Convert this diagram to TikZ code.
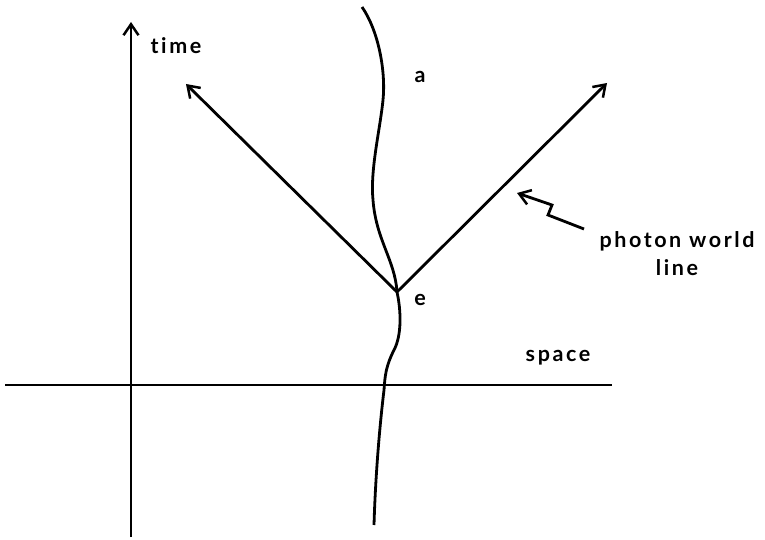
\documentclass[tikz,border=0pt]{standalone}
\usepackage{fontspec}
\setmainfont[LetterSpace=12,Ligatures={NoCommon},BoldFont={Lato Bold}]{Lato}
\usetikzlibrary{arrows.meta}
\begin{document}
\begin{tikzpicture}[x=1pt,y=-1pt,
  ln/.style={line width=2.8pt},
  tip/.style={-{Straight Barb[length=11pt,width=15pt,line width=2.5pt]}},
  arr/.style={ln,tip},
  lbl/.style={font=\fontsize{21.5}{28}\selectfont\bfseries,inner sep=0pt}]
\useasboundingbox (0,0) rectangle (765,540);
% axes
\coordinate (tb) at (131,537);
\coordinate (tt) at (131,22);
\coordinate (sl) at (5,385);
\coordinate (sr) at (612,385);
\draw[arr] (tb) -- (tt);
\draw[ln] (sl) -- (sr);
% world line
\coordinate (e) at (397,292);
\draw[ln] (362,7) .. controls (378,30) and (386,70) .. (383,100)
  .. controls (380,130) and (370,170) .. (373,200)
  .. controls (376,240) and (395,260) .. (e)
  .. controls (401,310) and (402,335) .. (394,350)
  .. controls (386,366) and (385,375) .. (384,390)
  .. controls (378,440) and (375,490) .. (374,525);
% photon lines
\coordinate (pl) at (186,84);
\coordinate (pr) at (607,83);
\draw[arr] (e) -- (pl);
\draw[arr] (e) -- (pr);
% zigzag pointer
\coordinate (z0) at (584,229);
\coordinate (z1) at (548,215);
\coordinate (z2) at (552,205);
\coordinate (z3) at (517,193);
\draw[arr,line join=miter] (z0) -- (z1) -- (z2) -- (z3);
% labels
\node[lbl] (time) at (176,46) {time};
\node[lbl] (a) at (420,77) {a};
\node[lbl] (ee) at (420,300) {e};
\node[lbl] (space) at (558,358) {space};
\node[lbl,align=center] (pw) at (677,254) {photon world\\line};
\end{tikzpicture}
\end{document}
